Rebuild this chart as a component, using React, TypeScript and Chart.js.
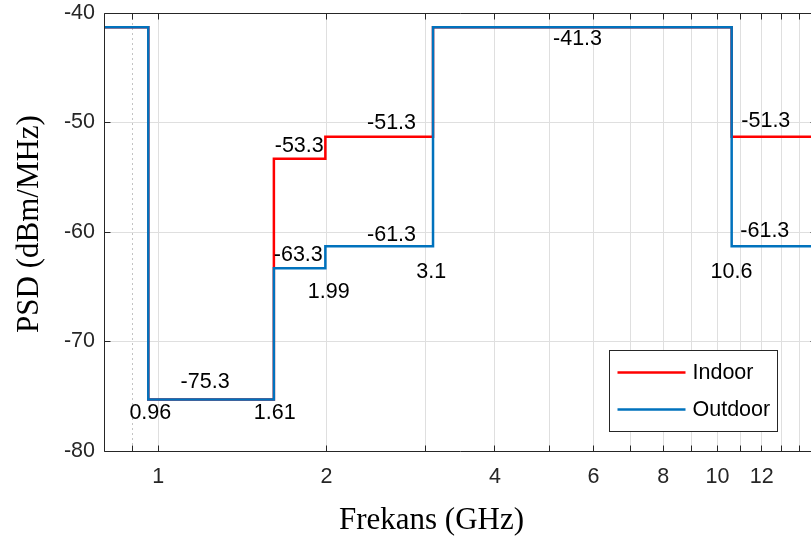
import React, { useEffect, useRef } from 'react';
import { Chart, registerables } from 'chart.js';

Chart.register(...registerables);

// Frequency range shown (GHz) and band edges of the emission mask
const FREQ_MIN = 0.8;
const FREQ_MAX = 15;
const bandEdges = [0.96, 1.61, 1.99, 3.1, 10.6];

// PSD limit (dBm/MHz) in each band: below 0.96, 0.96-1.61, 1.61-1.99, 1.99-3.1, 3.1-10.6, above 10.6
const indoorLevels = [-41.3, -75.3, -53.3, -51.3, -41.3, -51.3];
const outdoorLevels = [-41.3, -75.3, -63.3, -61.3, -41.3, -61.3];

// Axis ticks
const xTickValues = [0.9, 1, 2, 3, 4, 5, 6, 7, 8, 9, 10, 11, 12, 13, 14];
const xTickLabels = [1, 2, 4, 6, 8, 10, 12];
const xMinorGrid = [0.9];
const yMin = -80;
const yMax = -40;
const yStep = 10;

// Level annotations: value, anchor frequency, anchor PSD
const levelNoteValue = [-75.3, -53.3, -63.3, -51.3, -61.3, -41.3, -51.3, -61.3];
const levelNoteFreq = [1.213, 1.787, 1.78, 2.613, 2.613, 5.62, 12.2, 12.15];
const levelNotePsd = [-73.7, -52.15, -62.1, -50.05, -60.3, -42.4, -49.9, -59.95];

// Band-edge annotations: frequency label, anchor PSD
const edgeNoteFreq = [0.968, 1.616, 2.018, 3.078, 10.59];
const edgeNoteText = ['0.96', '1.61', '1.99', '3.1', '10.6'];
const edgeNotePsd = [-76.5, -76.5, -65.5, -63.65, -63.7];

const seriesNames = ['Indoor', 'Outdoor'];
const seriesColors = ['#ff0000', '#0072bd'];

const SANS = "'Liberation Sans', Arial, Helvetica, sans-serif";
const SERIF = "'Liberation Serif', 'Times New Roman', Times, serif";
const FONT_SIZE = 21.5;
const AXIS_COLOR = '#262626';
const GRID_COLOR = '#dfdfdf';
const MINOR_GRID_COLOR = '#c4c4c4';

function stepPoints(levels: number[]) {
  const pts = [{ x: FREQ_MIN, y: levels[0] }];
  bandEdges.forEach((e, i) => pts.push({ x: e, y: levels[i + 1] }));
  pts.push({ x: FREQ_MAX, y: levels[levels.length - 1] });
  return pts;
}

const half = (v: number) => Math.floor(v) + 0.5;

const decorPlugin = {
  id: 'psdDecor',
  beforeDatasetsDraw(chart: any) {
    const { ctx, chartArea: ca, scales } = chart;
    ctx.save();
    ctx.strokeStyle = MINOR_GRID_COLOR;
    ctx.lineWidth = 1;
    ctx.setLineDash([2, 3]);
    xMinorGrid.forEach((v) => {
      const px = half(scales.x.getPixelForValue(v));
      ctx.beginPath();
      ctx.moveTo(px, ca.top);
      ctx.lineTo(px, ca.bottom);
      ctx.stroke();
    });
    ctx.restore();
  },
  afterDatasetsDraw(chart: any) {
    const { ctx, chartArea: ca, scales } = chart;
    const xs = scales.x;
    const ys = scales.y;

    // value annotations
    ctx.save();
    ctx.fillStyle = '#000';
    ctx.font = `${FONT_SIZE}px ${SANS}`;
    ctx.textAlign = 'center';
    ctx.textBaseline = 'middle';
    levelNoteValue.forEach((v, i) => {
      ctx.fillText(v.toFixed(1), xs.getPixelForValue(levelNoteFreq[i]), ys.getPixelForValue(levelNotePsd[i]));
    });
    edgeNoteText.forEach((t, i) => {
      ctx.fillText(t, xs.getPixelForValue(edgeNoteFreq[i]), ys.getPixelForValue(edgeNotePsd[i]));
    });
    ctx.restore();

    // axes box with inward ticks
    const L = half(ca.left);
    const R = half(ca.right);
    const T = half(ca.top);
    const B = half(ca.bottom);
    const TL = 6;
    ctx.save();
    ctx.strokeStyle = AXIS_COLOR;
    ctx.lineWidth = 1;
    ctx.beginPath();
    ctx.moveTo(L, T);
    ctx.lineTo(R, T);
    ctx.lineTo(R, B);
    ctx.lineTo(L, B);
    ctx.closePath();
    xTickValues.forEach((v) => {
      const px = half(xs.getPixelForValue(v));
      ctx.moveTo(px, B);
      ctx.lineTo(px, B - TL);
      ctx.moveTo(px, T);
      ctx.lineTo(px, T + TL);
    });
    for (let v = yMin; v <= yMax; v += yStep) {
      const py = half(ys.getPixelForValue(v));
      ctx.moveTo(L, py);
      ctx.lineTo(L + TL, py);
      ctx.moveTo(R, py);
      ctx.lineTo(R - TL, py);
    }
    ctx.stroke();
    ctx.restore();

    // legend box in the lower right corner
    const ds = chart.data.datasets;
    const boxW = 168;
    const boxH = 81;
    const bx = half(ca.right - 39 - boxW);
    const by = half(ca.bottom - 19.5 - boxH);
    ctx.save();
    ctx.fillStyle = '#fff';
    ctx.fillRect(bx, by, boxW, boxH);
    ctx.strokeStyle = AXIS_COLOR;
    ctx.lineWidth = 1;
    ctx.strokeRect(bx, by, boxW, boxH);
    ctx.font = `${FONT_SIZE}px ${SANS}`;
    ctx.textAlign = 'left';
    ctx.textBaseline = 'middle';
    ds.forEach((d: any, i: number) => {
      const ly = by + 22 + i * 37;
      ctx.strokeStyle = d.borderColor;
      ctx.lineWidth = 2.5;
      ctx.beginPath();
      ctx.moveTo(bx + 8, ly);
      ctx.lineTo(bx + 76, ly);
      ctx.stroke();
      ctx.fillStyle = '#000';
      ctx.fillText(d.label, bx + 83, ly + 1);
    });
    ctx.restore();
  },
  afterDraw(chart: any) {
    const { ctx } = chart;
    ctx.save();
    ctx.fillStyle = '#000';
    ctx.font = `31px ${SERIF}`;
    ctx.textAlign = 'center';
    ctx.textBaseline = 'alphabetic';
    ctx.fillText('Frekans (GHz)', 431.5, 529);
    ctx.translate(38, 224);
    ctx.rotate(-Math.PI / 2);
    ctx.fillText('PSD (dBm/MHz)', 0, 0);
    ctx.restore();
  },
};

export default function App() {
  const canvasRef = useRef<HTMLCanvasElement | null>(null);

  useEffect(() => {
    if (!canvasRef.current) return;
    const chart = new Chart(canvasRef.current, {
      type: 'line',
      data: {
        datasets: [
          {
            label: seriesNames[0],
            data: stepPoints(indoorLevels),
            borderColor: seriesColors[0],
            backgroundColor: seriesColors[0],
            borderWidth: 2.5,
            pointRadius: 0,
            stepped: 'before',
            fill: false,
            order: 1,
          },
          {
            label: seriesNames[1],
            data: stepPoints(outdoorLevels),
            borderColor: seriesColors[1],
            backgroundColor: seriesColors[1],
            borderWidth: 2.5,
            pointRadius: 0,
            stepped: 'before',
            fill: false,
            order: 0,
          },
        ],
      },
      options: {
        responsive: false,
        animation: false,
        devicePixelRatio: 1,
        layout: { padding: { left: 0, top: 13, right: 14, bottom: 0 } },
        plugins: {
          legend: { display: false },
          tooltip: { enabled: false },
          title: { display: false },
        },
        scales: {
          x: {
            type: 'logarithmic',
            min: FREQ_MIN,
            max: FREQ_MAX,
            border: { display: false },
            grid: {
              drawTicks: false,
              lineWidth: 1,
              color: (c: any) => (xMinorGrid.includes(c.tick?.value) ? 'rgba(0,0,0,0)' : GRID_COLOR),
            },
            afterBuildTicks: (scale: any) => {
              scale.ticks = xTickValues.map((v) => ({ value: v }));
            },
            afterFit: (scale: any) => {
              scale.height = 88;
              scale.paddingLeft = 0;
              scale.paddingRight = 0;
            },
            ticks: {
              autoSkip: false,
              maxRotation: 0,
              minRotation: 0,
              padding: 13,
              color: AXIS_COLOR,
              font: { family: SANS, size: FONT_SIZE },
              callback: (v: any) => (xTickLabels.includes(Number(v)) ? String(v) : ''),
            },
          },
          y: {
            type: 'linear',
            min: yMin,
            max: yMax,
            border: { display: false },
            grid: { drawTicks: false, lineWidth: 1, color: GRID_COLOR },
            afterFit: (scale: any) => {
              scale.width = 104;
              scale.paddingTop = 0;
              scale.paddingBottom = 0;
            },
            ticks: {
              stepSize: yStep,
              padding: 9,
              color: AXIS_COLOR,
              font: { family: SANS, size: FONT_SIZE },
            },
          },
        },
      },
      plugins: [decorPlugin],
    } as any);
    return () => chart.destroy();
  }, []);

  return (
    <div
      style={{
        position: 'fixed',
        left: 0,
        top: 0,
        width: 830,
        height: 539,
        overflow: 'hidden',
        background: '#fff',
      }}
    >
      <canvas ref={canvasRef} width={830} height={539} style={{ display: 'block' }} />
    </div>
  );
}
